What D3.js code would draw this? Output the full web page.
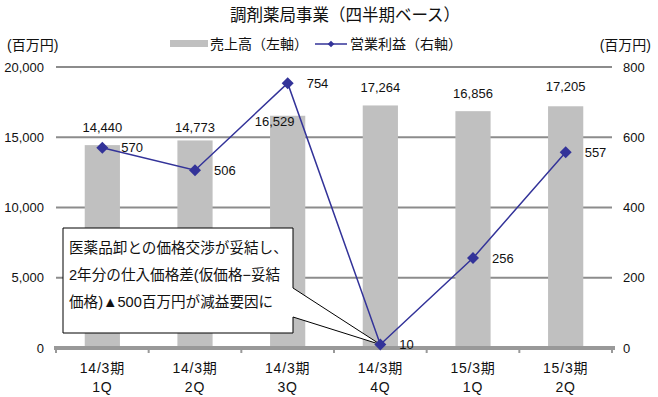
<!DOCTYPE html>
<html>
<head>
<meta charset="utf-8">
<script src="https://cdn.jsdelivr.net/npm/d3@7/dist/d3.min.js"></script>
<style>
  body { margin: 0; background: #fff; }
  svg text { font-family: "Liberation Sans", "Noto Sans CJK JP", sans-serif; fill: #111; }
</style>
</head>
<body>
<div id="chart"></div>
<script>
// data
var quarters = [["14/3期", "1Q"], ["14/3期", "2Q"], ["14/3期", "3Q"], ["14/3期", "4Q"], ["15/3期", "1Q"], ["15/3期", "2Q"]];
var sales = [14440, 14773, 16529, 17264, 16856, 17205];
var profit = [570, 506, 754, 10, 256, 557];
var leftTicks = [0, 5000, 10000, 15000, 20000];
var rightTicks = [0, 200, 400, 600, 800];
// label nudges in px (placed by hand in the original)
var salesLabelShift = [[0, -18], [0, -13], [-13, 6], [0, -18], [0, -18], [0, -20]];

var width = 658, height = 397;
var plotLeft = 56, plotRight = 612, plotTop = 67, plotBottom = 348;

var svg = d3.select("#chart").append("svg")
  .attr("width", width).attr("height", height);

var ids = quarters.map(function(d, i) { return i; });
var x = d3.scaleBand().domain(ids).range([plotLeft, plotRight])
  .paddingInner(0.62).paddingOuter(0.31);
var yL = d3.scaleLinear().domain([0, 20000]).range([plotBottom, plotTop]);
var yR = d3.scaleLinear().domain([0, 800]).range([plotBottom, plotTop]);
var diamond = function(size) { return d3.symbol(d3.symbolSquare, size)(); };

// title
svg.append("text").attr("x", 345).attr("y", 21).attr("text-anchor", "middle")
  .attr("font-size", "16.5px").text("調剤薬局事業（四半期ベース）");

// unit labels
svg.append("text").attr("x", 7).attr("y", 50).attr("font-size", "14px").text("(百万円)");
svg.append("text").attr("x", 651).attr("y", 50).attr("text-anchor", "end")
  .attr("font-size", "14px").text("(百万円)");

// legend
svg.append("rect").attr("x", 170).attr("y", 40).attr("width", 38).attr("height", 7).attr("fill", "#c0c0c0");
svg.append("text").attr("x", 210).attr("y", 49).attr("font-size", "14px").text("売上高（左軸）");
svg.append("line").attr("x1", 315).attr("x2", 347).attr("y1", 44).attr("y2", 44)
  .attr("stroke", "#333399").attr("stroke-width", 1.5);
svg.append("path").attr("d", diamond(22))
  .attr("transform", "translate(331,44) rotate(45)").attr("fill", "#333399");
svg.append("text").attr("x", 350).attr("y", 49).attr("font-size", "14px").text("営業利益（右軸）");

// gridlines
svg.append("g").selectAll("line").data(leftTicks.slice(1)).enter().append("line")
  .attr("x1", plotLeft).attr("x2", plotRight)
  .attr("y1", function(d) { return yL(d); }).attr("y2", function(d) { return yL(d); })
  .attr("stroke", "#8c8c8c").attr("stroke-width", 2);

// left tick labels
svg.append("g").selectAll("text").data(leftTicks).enter().append("text")
  .attr("x", 44).attr("y", function(d) { return yL(d); }).attr("dy", "0.35em")
  .attr("text-anchor", "end").attr("font-size", "13px")
  .text(function(d) { return d3.format(",")(d); });

// right tick labels
svg.append("g").selectAll("text").data(rightTicks).enter().append("text")
  .attr("x", 623).attr("y", function(d) { return yR(d); }).attr("dy", "0.35em")
  .attr("font-size", "13px").text(function(d) { return d; });

// bars
svg.append("g").selectAll("rect").data(sales).enter().append("rect")
  .attr("x", function(d, i) { return x(i); })
  .attr("y", function(d) { return yL(d); })
  .attr("width", x.bandwidth())
  .attr("height", function(d) { return yL(0) - yL(d); })
  .attr("fill", "#c0c0c0");

// x axis line + small ticks
svg.append("line").attr("x1", plotLeft - 2).attr("x2", plotRight + 3)
  .attr("y1", yL(0)).attr("y2", yL(0)).attr("stroke", "#999").attr("stroke-width", 4);
svg.append("g").selectAll("line").data(d3.range(quarters.length + 1)).enter().append("line")
  .attr("x1", function(d) { return plotLeft + d * x.step(); })
  .attr("x2", function(d) { return plotLeft + d * x.step(); })
  .attr("y1", yL(0)).attr("y2", yL(0) + 5)
  .attr("stroke", "#999").attr("stroke-width", 2);

// category labels
var cat = svg.append("g").selectAll("text").data(quarters).enter().append("text")
  .attr("text-anchor", "middle").attr("font-size", "14px").attr("letter-spacing", "0.8px");
cat.append("tspan").attr("y", 373).attr("x", function(d, i) { return x(i) + x.bandwidth() / 2; })
  .text(function(d) { return d[0]; });
cat.append("tspan").attr("y", 392).attr("x", function(d, i) { return x(i) + x.bandwidth() / 2; })
  .text(function(d) { return d[1]; });

// sales labels
svg.append("g").selectAll("text").data(sales).enter().append("text")
  .attr("x", function(d, i) { return x(i) + x.bandwidth() / 2 + salesLabelShift[i][0]; })
  .attr("y", function(d, i) { return yL(d) + salesLabelShift[i][1]; })
  .attr("dy", "0.35em").attr("text-anchor", "middle").attr("font-size", "13px")
  .text(function(d) { return d3.format(",")(d); });

// callout box
var px = x(3) + x.bandwidth() / 2, py = yR(profit[3]);
var bx0 = 63, bx1 = 293, by0 = 228, by1 = 333;
svg.append("path")
  .attr("d", "M" + bx0 + "," + by0 + "L" + bx1 + "," + by0 + "L" + bx1 + ",288L" + px + "," + py +
    "L" + bx1 + ",317L" + bx1 + "," + by1 + "L" + bx0 + "," + by1 + "Z")
  .attr("fill", "#fff").attr("stroke", "#000").attr("stroke-width", 1);
var note = ["医薬品卸との価格交渉が妥結し、", "2年分の仕入価格差(仮価格−妥結", "価格)▲500百万円が減益要因に"];
svg.append("g").selectAll("text").data(note).enter().append("text")
  .attr("x", 69).attr("y", function(d, i) { return 253 + i * 27; })
  .attr("font-size", "14.6px").text(function(d) { return d; });

// profit line
var line = d3.line()
  .x(function(d, i) { return x(i) + x.bandwidth() / 2; })
  .y(function(d) { return yR(d); });
svg.append("path").datum(profit).attr("d", line)
  .attr("fill", "none").attr("stroke", "#333399").attr("stroke-width", 1.5);
svg.append("g").selectAll("path").data(profit).enter().append("path")
  .attr("d", diamond(72))
  .attr("transform", function(d, i) { return "translate(" + (x(i) + x.bandwidth() / 2) + "," + yR(d) + ") rotate(45)"; })
  .attr("fill", "#333399");
svg.append("g").selectAll("text").data(profit).enter().append("text")
  .attr("x", function(d, i) { return x(i) + x.bandwidth() / 2 + 19; })
  .attr("y", function(d) { return yR(d); })
  .attr("dy", "0.35em").attr("font-size", "13px")
  .text(function(d) { return d; });
</script>
</body>
</html>
